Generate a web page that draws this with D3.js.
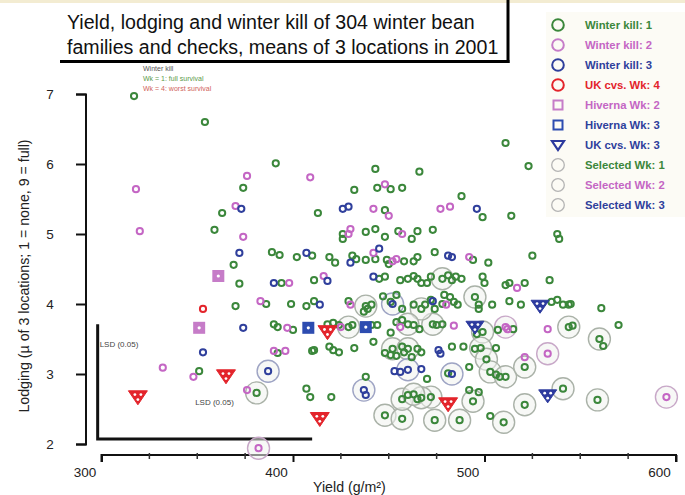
<!DOCTYPE html>
<html><head><meta charset="utf-8">
<script src="https://cdn.jsdelivr.net/npm/d3@7"></script>
<style>body{margin:0;background:#fff}svg{display:block;font-family:"Liberation Sans",Arial,sans-serif}</style>
</head><body><svg id="c" width="685" height="495"></svg>
<script>
// ---- data: [yield g/m2, lodging score] ----
const wk1 = [[317,6.97],[354,6.60],[391,6.01],[374,5.66],[363,5.30],[359,5.06],[389,4.74],[393,4.70],[402,4.67],[369,4.56],
[443,5.93],[466,5.89],[432,5.63],[444,5.66],[451,5.64],[457,5.66],[488,5.54],[413,5.30],[448,5.34],[499,5.24],
[426,5.00],[426,4.93],[438,5.03],[443,5.07],[448,4.96],[455,5.04],[462,4.93],[465,5.04],[473,5.06],
[410,4.69],[419,4.67],[422,4.59],[431,4.69],[433,4.64],[438,4.63],[443,4.64],[449,4.63],[450,4.57],[458,4.61],[463,4.61],[465,4.67],[474,4.74],[494,4.63],[502,4.59],
[511,6.30],[523,5.97],[514,5.26],[538,5.00],[539,4.93],[525,4.69],
[372,4.29],[394,4.30],[411,4.34],[370,3.97],[386,4.00],[399,4.00],[407,3.97],[411,4.04],[390,3.71],[392,3.67],[400,3.63],[421,3.73],[392,3.30],[410,3.33],[411,3.34],[419,3.39],[351,3.04],[407,2.79],[409,2.67],[420,2.67],
[445,4.36],[448,4.39],[456,4.34],[460,4.36],[463,4.40],[465,4.36],[467,4.30],[429,4.04],[439,3.93],[437,3.89],[441,3.99],[447,4.11],[451,4.03],[454,4.13],[457,3.93],[463,3.99],
[418,3.71],[424,3.70],[431,3.70],[441,3.70],[444,3.70],[451,3.59],[454,3.74],[457,3.77],[463,3.70],[442,3.46],[421,3.34],[424,3.31],[432,3.37],
[448,3.30],[451,3.27],[454,3.26],[457,3.39],[458,3.31],[462,3.24],[465,3.36],[467,3.31],
[438,2.96],[460,2.70],[465,2.64],
[470,4.30],[472,4.39],[481,4.41],[483,4.34],[485,4.39],[488,4.36],[499,4.39],[500,4.30],[511,4.27],[513,4.30],[521,4.30],[534,4.34],
[469,3.99],[472,4.06],[474,3.93],[479,4.13],[478,4.00],[482,4.10],[484,4.03],[486,3.99],[497,3.99],[497,3.93],[504,3.99],[513,4.04],[519,3.99],[535,4.03],
[466,3.64],[475,3.70],[478,3.71],[496,3.57],[507,3.63],[515,3.64],
[483,3.39],[489,3.39],[495,3.36],[506,3.37],
[481,3.01],[492,3.10],[506,2.99],[508,2.96],[470,2.93],[492,2.77],[497,2.74],[503,2.40],
[538,4.06],[541,3.99],[544,3.99],[545,4.00],[561,3.94],[546,3.69],[570,3.70],[562,3.40]];
const wk1Selected = [[381,2.73],[448,2.41],[457,2.36],[478,4.36],[495,4.10],[473,3.71],[499,3.60],[498,3.37],[501,3.21],[503,3.03],[511,2.96],[521,3.10],[472,2.67],[467,2.66],[494,2.61],[521,2.56],[474,2.34],[487,2.34],[510,2.31],[544,3.67],[560,3.50],[541,2.79],[559,2.63],[438,3.97],[467,3.93],[429,3.67],[460,3.71],[452,3.36],[460,3.36],[457,2.64],[463,2.71]];
const wk2 = [[376,5.83],[318,5.64],[370,5.40],[320,5.04],[374,4.96],[409,5.81],[448,5.71],[442,5.36],[450,5.26],[477,5.36],[482,5.39],[430,5.07],[429,5.00],[457,5.00],[442,4.73],[454,4.64],[452,4.61],[492,4.67],[398,4.30],[416,4.40],[383,4.04],[430,3.99],[397,3.66],[425,3.67],[456,3.67],[390,3.33],[396,3.33],[332,3.09],[348,2.96],[376,2.77],[480,3.99],[484,3.69],[512,3.64],[517,4.23],[533,3.64],[521,3.24]];
const wk2Selected = [[382,1.94],[511,3.67],[533,3.29],[595,2.67]];
const wk3 = [[373,5.36],[372,4.73],[426,5.36],[429,5.39],[496,5.36],[407,4.73],[430,4.59],[445,4.79],[481,4.69],[483,4.67],[390,4.30],[418,4.33],[442,4.39],[414,3.99],[374,3.66],[353,3.31],[453,3.04],[456,3.03],[467,3.07],[438,2.70],[473,4.04],[476,3.34],[477,3.29]];
const wk3Selected = [[387,3.04],[452,4.00],[460,3.06],[437,2.77],[483,3.00]];
const ukWk4Circle = [[353,3.93]];
const ukWk4Tri = [[319,2.67],[365,2.97],[418,3.60],[414,2.36],[481,2.57]];
const ukWk3Tri = [[529,3.97],[495,3.67],[533,2.69]];
const hivernaWk2 = [[361,4.40],[351,3.66]];
const hivernaWk3 = [[408,3.66],[438,3.67]];
const lsd = {x0:298, y0:2.07, yieldLSD:112, lodgingLSD:1.64};
const xTicks = [300,400,500,600];
const yTicks = [2,3,4,5,6,7];
const legendLabels = ["Winter kill: 1","Winter kill: 2","Winter kill: 3","UK cvs. Wk: 4","Hiverna Wk: 2","Hiverna Wk: 3","UK cvs. Wk: 3","Selected Wk: 1","Selected Wk: 2","Selected Wk: 3"];
const titleLines = ["Yield, lodging and winter kill of 304 winter bean","families and checks, means of 3 locations in 2001"];

// ---- drawing ----
const C = {g:"#3b873b", p:"#c466c4", b:"#2f3f9c", r:"#e3242b"};
const svg = d3.select("#c");
svg.append("rect").attr("width",685).attr("height",495).attr("fill","#fff");
svg.append("rect").attr("width",685).attr("height",3).attr("fill","#f3ecd2");
const x = d3.scaleLinear().domain([300,600]).range([101.5,676]);
const y = d3.scaleLinear().domain([2,7]).range([444,94]);

// title box
svg.append("rect").attr("x",60).attr("y",3).attr("width",447).attr("height",57).attr("fill","#fff");
svg.append("line").attr("x1",60).attr("x2",509.5).attr("y1",61.5).attr("y2",61.5).attr("stroke","#000").attr("stroke-width",3);
svg.append("line").attr("x1",508).attr("x2",508).attr("y1",0).attr("y2",63).attr("stroke","#000").attr("stroke-width",3);
svg.selectAll("text.title").data(titleLines).join("text").attr("class","title")
  .attr("x",67).attr("y",(d,i)=>29+i*24.5).attr("font-size",19.6).attr("fill","#111").text(d=>d);

// legend background
svg.append("rect").attr("x",546).attr("y",12).attr("width",139).attr("height",205).attr("fill","#fcfbf5");

// axes
const yAxis = svg.append("g").attr("transform","translate(86,0)")
  .call(d3.axisLeft(y).tickValues(yTicks).tickSize(10).tickFormat(d3.format("d")));
yAxis.select(".domain").attr("stroke","#111").attr("stroke-width",2).attr("d","M-10,94.5H0V444.5H-10");
yAxis.selectAll(".tick line").attr("stroke","#111").attr("stroke-width",2);
yAxis.selectAll(".tick text").attr("x",-36).attr("text-anchor","middle").attr("font-size",13.5).attr("fill","#222");

const xAxis = svg.append("g").attr("transform","translate(0,455)")
  .call(d3.axisBottom(x).tickValues(xTicks).tickSize(7).tickFormat(d3.format("d")));
xAxis.select(".domain").attr("stroke","#111").attr("stroke-width",2).attr("d","M101.5,7V0H676V7");
xAxis.selectAll(".tick line").attr("stroke","#111").attr("stroke-width",2);
xAxis.selectAll(".tick text").attr("dx",-17).attr("y",12).attr("font-size",13.5).attr("fill","#222");
const minor = d3.range(325,600,25).filter(v=>v%100!==0);
svg.append("g").selectAll("line").data(minor).join("line")
  .attr("x1",d=>x(d)).attr("x2",d=>x(d)).attr("y1",453).attr("y2",459).attr("stroke","#333").attr("stroke-width",1.5);

svg.append("text").attr("transform","translate(29,276) rotate(-90)").attr("text-anchor","middle")
  .attr("font-size",14.2).attr("fill","#222").text("Lodging (\u00b5 of 3 locations; 1 = none, 9 = full)");
svg.append("text").attr("x",313).attr("y",492).attr("font-size",14.2).attr("fill","#222").text("Yield (g/m\u00b2)");

// LSD bars
const lx = x(lsd.x0), ly = y(lsd.y0);
svg.append("path").attr("d",`M${lx},${y(lsd.y0+lsd.lodgingLSD)}V${ly}H${x(lsd.x0+lsd.yieldLSD)}`)
  .attr("fill","none").attr("stroke","#111").attr("stroke-width",3);
svg.append("text").attr("x",lx+2).attr("y",y(lsd.y0+lsd.lodgingLSD)+23).attr("font-size",8).attr("fill","#444").text("LSD (0.05)");
svg.append("text").attr("x",x(lsd.x0+lsd.yieldLSD)-117).attr("y",ly-34).attr("font-size",8).attr("fill","#444").text("LSD (0.05)");

// mini note
svg.append("text").attr("x",143).attr("y",71).attr("font-size",7).attr("fill","#555").text("Winter kill");
svg.append("text").attr("x",143).attr("y",81).attr("font-size",7).attr("fill","#5a9a4a").text("Wk = 1: full survival");
svg.append("text").attr("x",143).attr("y",91).attr("font-size",7).attr("fill","#d0645a").text("Wk = 4: worst survival");

// selected rings
const ring = (data,col)=>svg.append("g").selectAll("circle").data(data).join("circle")
  .attr("cx",d=>x(d[0])).attr("cy",d=>y(d[1])).attr("r",11)
  .attr("fill","#f1f2ee").attr("fill-opacity",0.55).attr("stroke",col).attr("stroke-width",1.4);
ring(wk1Selected,"#aab2a8"); ring(wk2Selected,"#c8a8c8"); ring(wk3Selected,"#9ea4c4");

const dots = (data,col,r)=>svg.append("g").selectAll("circle").data(data).join("circle")
  .attr("cx",d=>x(d[0])).attr("cy",d=>y(d[1])).attr("r",r||3.1)
  .attr("fill","none").attr("stroke",col).attr("stroke-width",2);
dots(wk1,C.g); dots(wk1Selected,C.g); dots(wk2,C.p); dots(wk2Selected,C.p); dots(wk3,C.b); dots(wk3Selected,C.b);
dots(ukWk4Circle,C.r);

const squares = (data,col)=>{
  const g = svg.append("g");
  g.selectAll("rect").data(data).join("rect").attr("x",d=>x(d[0])-6).attr("y",d=>y(d[1])-6)
    .attr("width",12).attr("height",12).attr("fill",col);
  g.selectAll("circle").data(data).join("circle").attr("cx",d=>x(d[0])).attr("cy",d=>y(d[1])).attr("r",1.6).attr("fill","#fff");
};
squares(hivernaWk2,"#c67cc8"); squares(hivernaWk3,"#2d4cb0");

const tris = (data,col,w,h)=>{
  const g = svg.append("g");
  g.selectAll("path").data(data).join("path")
    .attr("d",d=>{const cx=x(d[0]),cy=y(d[1]);return `M${cx-w},${cy-h*0.45}L${cx+w},${cy-h*0.45}L${cx},${cy+h*0.55}Z`;})
    .attr("fill",col).attr("stroke",col).attr("stroke-width",1);
  const offs=[[-3,-2.5],[3,-2.5],[0,2.5]];
  data.forEach(d=>{offs.forEach(o=>g.append("circle").attr("cx",x(d[0])+o[0]).attr("cy",y(d[1])+o[1]).attr("r",1.4).attr("fill","#fff"));});
};
tris(ukWk4Tri,C.r,9.5,14); tris(ukWk3Tri,"#2c3a9e",9,13);

// legend
const lg = svg.append("g");
const legColors = [C.g,C.p,C.b,C.r,"#c466c4",C.b,C.b,C.g,C.p,C.b];
legendLabels.forEach((t,i)=>{
  const cy = 25+i*20, cx = 558;
  if(i<4) lg.append("circle").attr("cx",cx).attr("cy",cy).attr("r",5.8).attr("fill","none").attr("stroke",[C.g,"#c67cc8",C.b,C.r][i]).attr("stroke-width",2);
  else if(i<6) lg.append("rect").attr("x",cx-4.5).attr("y",cy-4.5).attr("width",9).attr("height",9).attr("fill","none").attr("stroke",i==4?"#c67cc8":"#2d4cb0").attr("stroke-width",2);
  else if(i==6) lg.append("path").attr("d",`M${cx-6},${cy-4}H${cx+6}L${cx},${cy+5}Z`).attr("fill","none").attr("stroke","#2c3a9e").attr("stroke-width",2.2);
  else lg.append("circle").attr("cx",cx).attr("cy",cy).attr("r",6.3).attr("fill","none").attr("stroke","#b4b4b4").attr("stroke-width",1.3);
  lg.append("text").attr("x",585).attr("y",cy+4).attr("font-size",11.3).attr("font-weight","bold").attr("fill",legColors[i]).text(t);
});
</script></body></html>
